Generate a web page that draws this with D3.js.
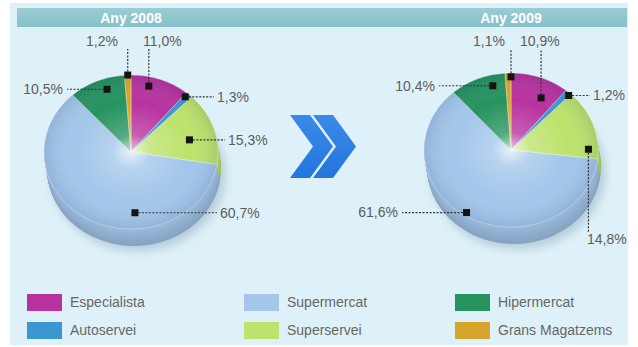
<!DOCTYPE html>
<html>
<head>
<meta charset="utf-8">
<script src="https://cdn.jsdelivr.net/npm/d3@7/dist/d3.min.js"></script>
<style>
  html, body { margin: 0; padding: 0; background: #ffffff; }
  svg { display: block; font-family: "Liberation Sans", Arial, sans-serif; }
</style>
</head>
<body>
<svg id="chart" width="638" height="347"></svg>
<script>
// Market share by store format (percent)
const categories = ["Especialista", "Autoservei", "Superservei", "Supermercat", "Hipermercat", "Grans Magatzems"];
const years = ["Any 2008", "Any 2009"];
const values2008 = [11.0, 1.3, 15.3, 60.7, 10.5, 1.2];
const values2009 = [10.9, 1.2, 14.8, 61.6, 10.4, 1.1];
const colors = ["#b8329f", "#3a97d2", "#bde36c", "#a3c6ea", "#26935f", "#d8a52c"];
const legendOrder = ["Especialista", "Supermercat", "Hipermercat", "Autoservei", "Superservei", "Grans Magatzems"];

const fmt = v => d3.format(".1f")(v).replace(".", ",") + "%";

const svg = d3.select("#chart");
const defs = svg.append("defs");

// panel + header band
svg.append("rect").attr("x", 10).attr("y", 3).attr("width", 618).attr("height", 342).attr("fill", "#dff1f8");
const hdrGrad = defs.append("linearGradient").attr("id", "hdr").attr("x1", 0).attr("y1", 0).attr("x2", 0).attr("y2", 1);
hdrGrad.append("stop").attr("offset", "0%").attr("stop-color", "#9accd3");
hdrGrad.append("stop").attr("offset", "100%").attr("stop-color", "#86c1ca");
svg.append("rect").attr("x", 17).attr("y", 8).attr("width", 610).attr("height", 19).attr("fill", "url(#hdr)");

// shading for the pie top face
const shade = defs.append("radialGradient").attr("id", "shade").attr("cx", "50%").attr("cy", "50%").attr("r", "50%");
shade.append("stop").attr("offset", "0%").attr("stop-color", "#ffffff").attr("stop-opacity", 0.75);
shade.append("stop").attr("offset", "22%").attr("stop-color", "#ffffff").attr("stop-opacity", 0.22);
shade.append("stop").attr("offset", "65%").attr("stop-color", "#ffffff").attr("stop-opacity", 0.0);
shade.append("stop").attr("offset", "100%").attr("stop-color", "#0a2a55").attr("stop-opacity", 0.12);

const blur = defs.append("filter").attr("id", "blur").attr("x", "-20%").attr("y", "-20%").attr("width", "140%").attr("height", "140%");
blur.append("feGaussianBlur").attr("stdDeviation", 5);

const pies = [
  { title: years[0], values: values2008, cx: 131, cy: 152,
    anchors: [[0.34, 0.88], [0.30, 0.95], [0.59, 0.69], [0.354, 0.79], [0.62, 0.86], [0.5, 1.0]],
    labels: [
      { dir: "up", tx: 143, ty: 41, anchor: "start" },
      { dir: "right", tx: 217 },
      { dir: "right", tx: 228 },
      { dir: "right", tx: 220 },
      { dir: "left", tx: 63 },
      { dir: "up", tx: 118, ty: 41, anchor: "end" }
    ] },
  { title: years[1], values: values2009, cx: 511, cy: 150,
    anchors: [[0.69, 0.76], [0.9, 0.97], [0.86, 0.89], [0.52, 0.96], [0.73, 0.86], [1.0, 0.95]],
    labels: [
      { dir: "up", tx: 520, ty: 41, anchor: "start" },
      { dir: "right", tx: 593 },
      { dir: "down", tx: 587, ty: 239, anchor: "start" },
      { dir: "left", tx: 398 },
      { dir: "left", tx: 435 },
      { dir: "up", tx: 505, ty: 41, anchor: "end" }
    ] }
];

const rx = 87, ry = 77, depth = 17;
const pieGen = d3.pie().sort(null).value(d => d).startAngle(0).endAngle(2 * Math.PI);
const arcGen = d3.arc().innerRadius(0).outerRadius(rx);

pies.forEach(p => {
  const arcs = pieGen(p.values);

  svg.append("text").attr("x", p.cx).attr("y", 18).attr("dy", "0.35em")
    .attr("text-anchor", "middle").attr("fill", "#ffffff").attr("font-weight", "bold")
    .attr("font-size", 14).text(p.title);

  // drop shadow
  svg.append("ellipse").attr("cx", p.cx + 7).attr("cy", p.cy + depth + 5)
    .attr("rx", rx).attr("ry", ry).attr("fill", "#1d4670").attr("opacity", 0.22).attr("filter", "url(#blur)");

  // side wall, built up in thin layers
  for (let k = depth; k > 0; k -= 1) {
    const g = svg.append("g").attr("transform", `translate(${p.cx + 3 * k / depth},${p.cy + k}) scale(1,${ry / rx})`);
    g.selectAll("path").data(arcs).join("path")
      .attr("d", arcGen).attr("fill", (d, i) => d3.color(colors[i]).darker(0.15 + 0.4 * k / depth));
  }

  // top face
  const top = svg.append("g").attr("transform", `translate(${p.cx},${p.cy}) scale(1,${ry / rx})`);
  top.selectAll("path").data(arcs).join("path")
    .attr("d", arcGen).attr("fill", (d, i) => colors[i])
    .attr("stroke", "rgba(255,255,255,0.45)").attr("stroke-width", 0.8).attr("vector-effect", "non-scaling-stroke");
  svg.append("ellipse").attr("cx", p.cx).attr("cy", p.cy).attr("rx", rx).attr("ry", ry).attr("fill", "url(#shade)");

  // leaders, markers and value labels
  arcs.forEach((a, i) => {
    const [t, r] = p.anchors[i];
    const ang = a.startAngle + t * (a.endAngle - a.startAngle);
    const mx = p.cx + r * rx * Math.sin(ang);
    const my = p.cy - r * ry * Math.cos(ang);
    const L = p.labels[i];
    let x2, y2, tx, ty, anchor;
    if (L.dir === "up") { x2 = mx; y2 = L.ty + 8; tx = L.tx; ty = L.ty; anchor = L.anchor; }
    else if (L.dir === "down") { x2 = mx; y2 = L.ty - 7; tx = L.tx; ty = L.ty; anchor = L.anchor; }
    else if (L.dir === "right") { x2 = L.tx - 3; y2 = my; tx = L.tx; ty = my; anchor = "start"; }
    else { x2 = L.tx + 4; y2 = my; tx = L.tx; ty = my; anchor = "end"; }
    svg.append("line").attr("x1", mx).attr("y1", my).attr("x2", x2).attr("y2", y2)
      .attr("stroke", "#333").attr("stroke-width", 1.2).attr("stroke-dasharray", "2,1.5");
    svg.append("rect").attr("x", mx - 3.5).attr("y", my - 3.5).attr("width", 7).attr("height", 7).attr("fill", "#141414");
    svg.append("text").attr("x", tx).attr("y", ty).attr("dy", "0.35em")
      .attr("text-anchor", anchor).attr("fill", "#5c5c5c").attr("font-size", 14)
      .text(fmt(p.values[i]));
  });
});

// double chevron between the two years
const chevGrad = defs.append("linearGradient").attr("id", "chev").attr("x1", 0).attr("y1", 0).attr("x2", 0).attr("y2", 1);
chevGrad.append("stop").attr("offset", "0%").attr("stop-color", "#3a8ae8");
chevGrad.append("stop").attr("offset", "100%").attr("stop-color", "#2276dc");
const chevron = (x0, yTop, yBot, w, reach) => {
  const ym = (yTop + yBot) / 2;
  return `M${x0},${yTop}L${x0 + w},${yTop}L${x0 + w + reach},${ym}L${x0 + w},${yBot}L${x0},${yBot}L${x0 + reach},${ym}Z`;
};
[290, 313].forEach(x0 => {
  svg.append("path").attr("d", chevron(x0, 115, 178, 20, 23)).attr("fill", "url(#chev)");
});

// legend
const colorOf = d3.scaleOrdinal().domain(categories).range(colors);
const colX = [27, 244, 455], rowY = [294, 322];
legendOrder.forEach((name, k) => {
  const x = colX[k % 3], y = rowY[Math.floor(k / 3)];
  svg.append("rect").attr("x", x).attr("y", y).attr("width", 35).attr("height", 17).attr("fill", colorOf(name));
  svg.append("text").attr("x", x + 43).attr("y", y + 8.5).attr("dy", "0.35em")
    .attr("fill", "#666").attr("font-size", 14).text(name);
});
</script>
</body>
</html>
